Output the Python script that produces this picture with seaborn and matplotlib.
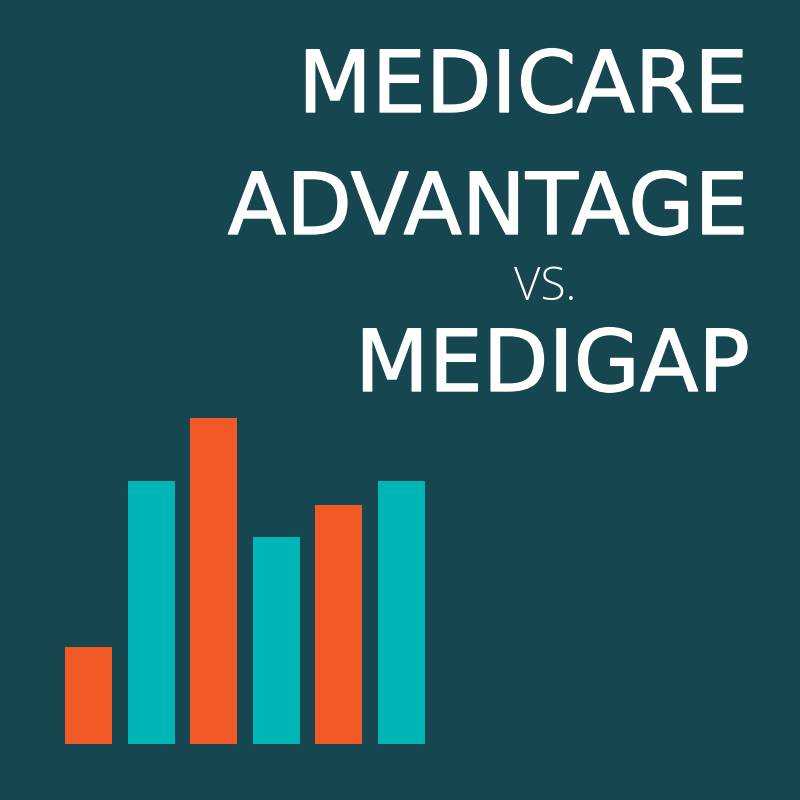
import matplotlib
matplotlib.use('Agg')
import matplotlib.pyplot as plt
import matplotlib.patheffects as pe
import seaborn as sns
import pandas as pd

# bar heights (pixels above the baseline)
bars = ['b1', 'b2', 'b3', 'b4', 'b5', 'b6']
heights = [97, 263, 326, 207, 239, 263]
groups = ['orange', 'teal', 'orange', 'teal', 'orange', 'teal']

title_lines = ['MEDICARE', 'ADVANTAGE', 'VS.', 'MEDIGAP']

bg = '#16464f'
colors = {'orange': '#f15a27', 'teal': '#00b5b5'}

sns.set_theme(style='white')
plt.rcParams['font.family'] = ['DejaVu Sans']

df = pd.DataFrame({'bar': bars, 'height': heights, 'group': groups})

fig = plt.figure(figsize=(8, 8), dpi=100, facecolor=bg)
ax = fig.add_axes([0, 0, 1, 1])
ax.set_facecolor(bg)

sns.barplot(data=df, x='bar', y='height', hue='group', palette=colors,
            order=bars, dodge=False, width=0.75, legend=False, ax=ax,
            edgecolor='none', saturation=1)

# map data units onto pixels: bar spacing ~62.5px, first bar centre at 88.8px
ax.set_xlim(-88.8 / 62.5, (800 - 88.8) / 62.5)
ax.set_ylim(-56, 744)
ax.axis('off')

# slightly heavier strokes, like the medium geometric face in the original
thick = [pe.withStroke(linewidth=1.0, foreground='white')]

fig.text(0.935, 1 - 112 / 800, title_lines[0], color='white', fontsize=61.5,
         ha='right', va='baseline', path_effects=thick)
fig.text(0.935, 1 - 234 / 800, title_lines[1], color='white', fontsize=61.5,
         ha='right', va='baseline', path_effects=thick)
fig.text(0.72, 1 - 300 / 800, title_lines[2], color='white', fontsize=33,
         ha='right', va='baseline', family=['Open Sans', 'DejaVu Sans'],
         fontweight='light')
fig.text(0.937, 1 - 391 / 800, title_lines[3], color='white', fontsize=61.5,
         ha='right', va='baseline', path_effects=thick)

fig.savefig('out.png', dpi=100, facecolor=bg)
